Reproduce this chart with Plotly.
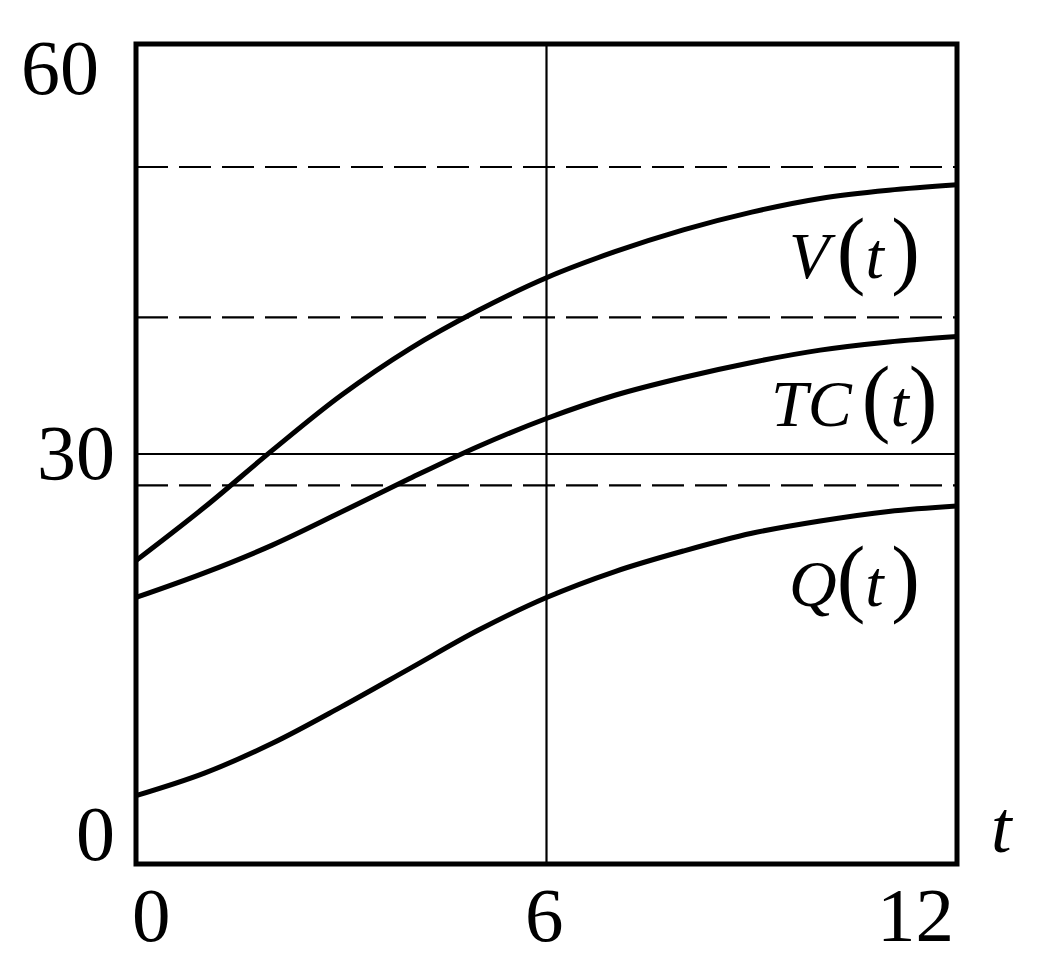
import plotly.graph_objects as go

# ---- data ----
t = [0, 1, 2, 3, 4, 5, 6, 7, 8, 9, 10, 11, 12]
V = [22.2, 26.1, 30.3, 34.3, 37.7, 40.5, 42.9, 44.8, 46.4, 47.7, 48.7, 49.3, 49.7]
TC = [19.5, 21.3, 23.35, 25.75, 28.2, 30.55, 32.6, 34.3, 35.6, 36.7, 37.6, 38.2, 38.6]
Q = [5.0, 6.65, 8.85, 11.5, 14.3, 17.1, 19.5, 21.4, 22.9, 24.2, 25.1, 25.8, 26.2]

dashed_levels = [51, 40, 27.7]
solid_hline = 30
solid_vline = 6

x_ticks = [0, 6, 12]
x_tick_text = ["0", "6", "12"]
y_ticks = [60, 30, 0]
y_tick_text = ["60", "30", "0"]

FONT = "Liberation Serif"

fig = go.Figure()

for ys in (V, TC, Q):
    fig.add_trace(go.Scatter(x=t, y=ys, mode="lines",
                             line=dict(color="black", width=5, shape="spline", smoothing=1.0),
                             showlegend=False, hoverinfo="skip"))

shapes = []
for lv in dashed_levels:
    shapes.append(dict(type="line", xref="paper", x0=0, x1=1, yref="y", y0=lv, y1=lv,
                       line=dict(color="black", width=2.2, dash="32px,11px"), layer="below"))
shapes.append(dict(type="line", xref="paper", x0=0, x1=1, yref="y", y0=solid_hline, y1=solid_hline,
                   line=dict(color="black", width=2.2), layer="below"))
shapes.append(dict(type="line", yref="paper", y0=0, y1=1, xref="x", x0=solid_vline, x1=solid_vline,
                   line=dict(color="black", width=2.2), layer="below"))
# frame
shapes.append(dict(type="rect", xref="paper", yref="paper", x0=0, x1=1, y0=0, y1=1,
                   line=dict(color="black", width=5), layer="above"))

ann = []
# x tick labels
x_anchor = ["left", "center", "right"]
x_shift = [-6, -2, -1]
for v, txt, a, s in zip(x_ticks, x_tick_text, x_anchor, x_shift):
    ann.append(dict(x=v, xref="x", y=0, yref="paper", text=txt, showarrow=False,
                    xanchor=a, yanchor="middle", yshift=-51, xshift=s,
                    font=dict(family=FONT, size=77, color="black")))
# y tick labels
y_yshift = [-23, 2, 31]
y_xshift = [-35, -19, -19]
for v, txt, ys, xs in zip(y_ticks, y_tick_text, y_yshift, y_xshift):
    ann.append(dict(x=0, xref="paper", y=v, yref="y", text=txt, showarrow=False,
                    xanchor="right", yanchor="middle", yshift=ys, xshift=xs,
                    font=dict(family=FONT, size=78, color="black")))
# axis label t
ann.append(dict(x=1, xref="paper", y=0, yref="y", text="<i>t</i>", showarrow=False,
                xanchor="center", yanchor="middle", xshift=45, yshift=37,
                font=dict(family=FONT, size=74, color="black")))

P = "<span style='font-size:86px'>(</span>"
PC = "<span style='font-size:86px'>)</span>"
SP = "<span style='font-size:30px'> </span>"
SP2 = "<span style='font-size:40px'> </span>"
labels = [
    ("<i>V</i>" + SP + P + "<i>t</i>" + SP + PC, 10.5, 45.0),
    ("<i>TC</i>" + SP2 + P + "<i>t</i>" + PC, 10.5, 34.15),
    ("<i>Q</i>" + P + "<i>t</i>" + SP + PC, 10.5, 21.0),
]
for txt, xx, yy in labels:
    ann.append(dict(x=xx, xref="x", y=yy, yref="y", text=txt, showarrow=False,
                    xanchor="center", yanchor="middle",
                    font=dict(family=FONT, size=66, color="black")))

fig.update_layout(
    width=1042, height=959,
    margin=dict(l=136, r=85, t=44, b=95),
    paper_bgcolor="white", plot_bgcolor="white",
    shapes=shapes, annotations=ann,
    xaxis=dict(range=[0, 12], showgrid=False, zeroline=False, showticklabels=False, ticks="",
               showline=False),
    yaxis=dict(range=[0, 60], showgrid=False, zeroline=False, showticklabels=False, ticks="",
               showline=False),
)

fig.write_html("out.html", config={"displayModeBar": False},
               post_script="document.body.style.margin='0';document.body.style.padding='0';")
